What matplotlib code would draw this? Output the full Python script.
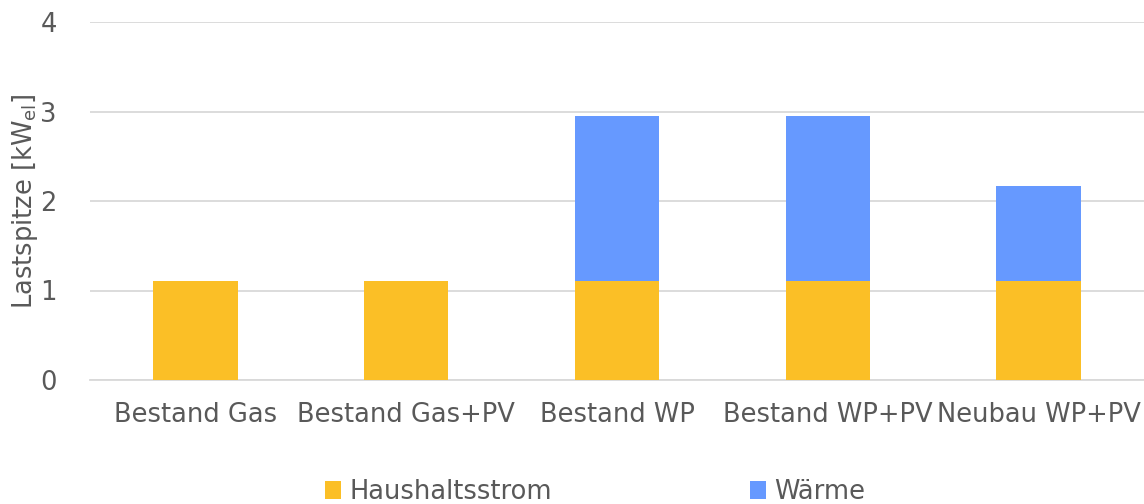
import numpy as np
import matplotlib
matplotlib.use("Agg")
import matplotlib.pyplot as plt

categories = ["Bestand Gas", "Bestand Gas+PV", "Bestand WP", "Bestand WP+PV", "Neubau WP+PV"]
haushaltsstrom = [1.11, 1.11, 1.11, 1.11, 1.11]
waerme = [0.0, 0.0, 1.84, 1.84, 1.06]

plt.rcParams["font.family"] = ["DejaVu Sans"]
grey = "#595959"
fs = 18.5

fig = plt.figure(figsize=(11.44, 5.04), dpi=100)
ax = fig.add_axes([90 / 1144, 1 - 380 / 504, 1054 / 1144, 358 / 504])

x = np.arange(len(categories))
ax.bar(x, haushaltsstrom, width=0.4, color="#FBBF26", label="Haushaltsstrom", zorder=3)
ax.bar(x, waerme, width=0.4, bottom=haushaltsstrom, color="#6699FF", label="Wärme", zorder=3)

ax.set_xlim(-0.5, len(categories) - 0.5)
ax.set_ylim(0, 4)
ax.set_yticks([0, 1, 2, 3, 4])
ax.set_xticks(x)
ax.set_xticklabels(categories)
ax.grid(axis="y", color="#D9D9D9", linewidth=1.3, zorder=0)
for s in ["top", "right", "left"]:
    ax.spines[s].set_visible(False)
ax.spines["bottom"].set_color("#D9D9D9")
ax.spines["bottom"].set_linewidth(1.3)
ax.tick_params(length=0, labelsize=fs, colors=grey)
ax.tick_params(axis="x", pad=16)
ax.tick_params(axis="y", pad=24)
ax.set_ylabel("Lastspitze [kW$_\\mathregular{el}$]", fontsize=fs, color=grey, labelpad=0)

fig.legend(loc="lower center", bbox_to_anchor=(0.52, -0.048), ncol=2, frameon=False,
           fontsize=fs, labelcolor=grey, handlelength=0.65, handleheight=0.65,
           handletextpad=0.3, columnspacing=7.7)

fig.savefig("out.png", dpi=100)
